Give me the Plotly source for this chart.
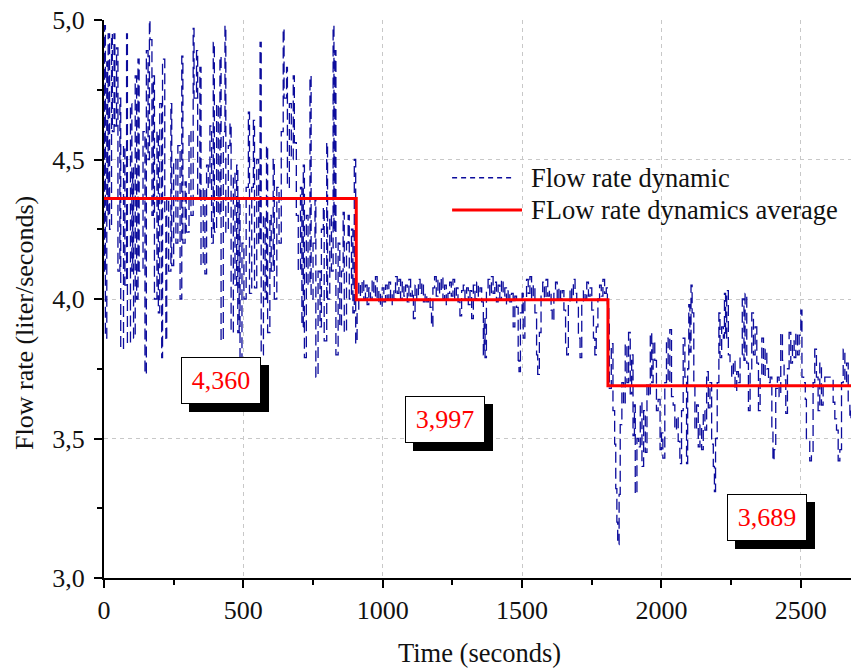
import plotly.graph_objects as go

# ---- data: (time in s, flow rate in l/s) ----
dyn_seg1 = [
    (0, 4.10), (2, 4.98), (5, 3.86), (10, 4.85), (13, 4.30), (15, 4.95), (20, 4.25), (27, 4.95),
    (30, 4.60), (36, 4.95), (39, 4.62), (45, 4.90), (50, 4.10), (57, 4.72), (60, 3.82), (70, 4.55),
    (75, 4.05), (81, 4.95), (84, 3.84), (95, 4.70), (100, 4.10), (103, 4.47), (106, 3.86), (112, 4.80),
    (117, 4.00), (122, 4.86), (126, 4.10), (140, 4.60), (147, 3.73), (152, 4.89), (158, 4.50), (163, 5.00),
    (165, 4.93), (172, 4.30), (177, 4.80), (181, 4.00), (190, 4.60), (195, 3.95), (200, 4.70), (207, 3.79),
    (210, 4.86), (218, 4.30), (222, 3.85), (225, 4.36), (232, 4.10), (240, 4.70), (243, 4.12), (250, 4.50),
    (258, 4.20), (265, 4.55), (273, 4.00), (279, 4.87), (283, 4.20), (291, 4.42), (295, 4.24), (305, 4.60),
    (312, 4.30), (320, 4.97), (323, 4.72), (332, 4.89), (336, 4.36), (344, 4.83), (348, 4.12), (356, 4.40),
    (362, 4.09), (368, 4.48), (374, 4.40), (380, 4.62), (386, 4.20), (392, 4.92), (396, 4.24), (404, 4.70),
    (410, 4.30), (416, 4.87), (420, 3.85), (428, 4.60), (434, 4.98), (437, 4.24), (446, 4.55), (452, 4.63),
    (456, 3.88), (464, 4.45), (470, 4.05), (476, 4.48), (480, 3.88), (485, 4.36), (488, 3.77), (495, 4.20),
    (502, 4.00), (510, 4.40), (518, 4.67), (522, 4.02), (530, 4.40), (536, 4.64), (540, 4.04), (548, 4.50),
    (555, 4.20), (560, 4.92), (564, 3.80), (572, 4.30), (578, 4.00), (583, 4.55), (587, 3.88), (595, 4.30),
    (600, 4.10), (607, 4.50), (611, 4.00), (620, 4.40), (628, 4.20), (636, 4.60), (643, 4.97), (646, 4.72),
    (655, 4.83), (658, 4.40), (665, 4.70), (672, 4.50), (679, 4.80), (683, 4.56), (690, 4.30), (697, 4.10),
    (705, 4.40), (710, 3.90), (715, 4.48), (719, 3.79), (726, 4.30), (732, 4.05), (739, 4.80), (743, 4.00),
    (750, 4.20), (757, 4.36), (760, 3.72), (768, 4.10), (775, 3.90), (780, 4.25), (787, 4.33), (790, 3.85),
    (799, 4.56), (802, 4.00), (810, 4.30), (816, 4.10), (822, 4.98), (825, 4.24), (828, 4.89), (832, 3.80),
    (840, 4.20), (846, 3.90), (852, 4.10), (858, 4.31), (862, 3.88), (870, 4.20), (876, 4.30), (880, 4.00),
    (888, 4.25), (893, 3.95), (898, 4.50), (903, 3.84),
]
dyn_seg2 = [
    (908, 3.95), (914, 4.06), (920, 4.01), (926, 4.07), (932, 4.00), (938, 4.05), (944, 3.98), (950, 4.04),
    (956, 4.00), (962, 4.07), (968, 4.01), (974, 4.08), (980, 3.99), (986, 4.03), (992, 3.97), (998, 4.04),
    (1004, 3.99), (1010, 4.05), (1016, 4.00), (1022, 4.06), (1028, 3.98), (1034, 4.03), (1040, 4.00), (1046, 4.08),
    (1052, 4.02), (1058, 4.07), (1064, 4.00), (1070, 4.06), (1076, 4.01), (1082, 4.05), (1088, 3.99), (1094, 4.07),
    (1100, 4.01), (1106, 4.03), (1110, 3.93), (1116, 4.05), (1122, 4.00), (1128, 4.07), (1134, 4.02), (1140, 4.06),
    (1146, 3.99), (1152, 4.02), (1158, 3.99), (1164, 4.01), (1170, 3.97), (1175, 3.90), (1180, 4.04), (1186, 4.08),
    (1192, 4.01), (1198, 4.07), (1204, 4.02), (1210, 4.08), (1216, 4.00), (1222, 4.05), (1228, 3.98), (1234, 4.02),
    (1240, 4.06), (1246, 4.01), (1252, 4.07), (1258, 4.00), (1264, 4.04), (1270, 3.99), (1277, 3.94), (1283, 4.03),
    (1289, 4.05), (1295, 4.00), (1301, 4.04), (1307, 3.98), (1313, 4.03), (1319, 3.93), (1325, 4.05), (1331, 4.00),
    (1337, 4.06), (1343, 4.01), (1349, 4.04), (1355, 3.99), (1361, 3.80), (1364, 3.93), (1367, 3.79), (1372, 4.03),
    (1378, 4.07), (1384, 4.01), (1390, 4.08), (1396, 4.02), (1402, 4.06), (1408, 3.99), (1414, 4.05), (1420, 4.00),
    (1426, 4.07), (1432, 4.01), (1438, 4.04), (1444, 3.98), (1450, 4.03), (1456, 3.99), (1462, 4.02), (1468, 3.90),
    (1474, 4.01), (1480, 3.97), (1486, 3.78), (1489, 3.74), (1494, 3.95), (1500, 4.02), (1504, 3.86), (1510, 4.00),
    (1516, 4.07), (1522, 4.02), (1528, 4.08), (1534, 4.00), (1540, 4.05), (1546, 3.95), (1552, 3.80), (1556, 3.73),
    (1562, 3.88), (1568, 4.02), (1574, 4.06), (1580, 4.00), (1586, 4.07), (1592, 4.01), (1598, 4.03), (1604, 3.96),
    (1608, 3.92), (1614, 4.02), (1620, 4.06), (1626, 3.99), (1632, 4.04), (1638, 4.00), (1644, 4.03), (1650, 3.96),
    (1656, 3.84), (1660, 3.80), (1666, 3.98), (1672, 4.04), (1678, 4.00), (1684, 4.07), (1690, 4.02), (1696, 3.98),
    (1702, 3.86), (1708, 3.79), (1714, 3.98), (1720, 4.03), (1726, 4.00), (1732, 4.06), (1738, 4.01), (1744, 4.04),
    (1750, 3.96), (1756, 3.86), (1761, 3.80), (1766, 3.90), (1772, 4.00), (1778, 4.05), (1784, 4.01), (1790, 4.07),
    (1796, 4.02), (1802, 4.04), (1806, 3.98),
]
dyn_seg3 = [
    (1811, 3.92), (1813, 3.68), (1820, 3.84), (1826, 3.60), (1832, 3.48), (1836, 3.32), (1840, 3.20), (1843, 3.12),
    (1848, 3.30), (1852, 3.55), (1858, 3.70), (1864, 3.62), (1870, 3.84), (1876, 3.70), (1882, 3.88), (1888, 3.66),
    (1893, 3.80), (1898, 3.51), (1903, 3.62), (1906, 3.30), (1912, 3.50), (1918, 3.47), (1924, 3.63), (1930, 3.40),
    (1936, 3.60), (1942, 3.45), (1948, 3.70), (1954, 3.65), (1960, 3.88), (1965, 3.70), (1970, 3.85), (1976, 3.78),
    (1982, 3.60), (1988, 3.64), (1995, 3.46), (2000, 3.52), (2005, 3.43), (2012, 3.70), (2018, 3.86), (2024, 3.70),
    (2030, 3.89), (2036, 3.65), (2042, 3.62), (2048, 3.53), (2054, 3.58), (2060, 3.49), (2066, 3.41), (2072, 3.60),
    (2078, 3.86), (2084, 3.72), (2090, 3.41), (2094, 3.75), (2098, 3.98), (2102, 3.81), (2106, 4.05), (2110, 3.95),
    (2116, 3.70), (2120, 3.53), (2126, 3.62), (2132, 3.47), (2138, 3.55), (2144, 3.46), (2150, 3.60), (2156, 3.53),
    (2162, 3.74), (2168, 3.61), (2174, 3.70), (2180, 3.48), (2186, 3.40), (2190, 3.31), (2194, 3.50), (2200, 3.70),
    (2206, 3.95), (2210, 3.79), (2216, 3.90), (2222, 3.86), (2226, 4.02), (2230, 3.86), (2234, 4.03), (2240, 3.80),
    (2246, 3.76), (2252, 3.72), (2258, 3.78), (2264, 3.67), (2270, 3.74), (2276, 3.70), (2282, 3.80), (2290, 4.00),
    (2296, 3.78), (2300, 4.02), (2306, 3.77), (2312, 3.60), (2318, 3.75), (2324, 3.95), (2330, 3.80), (2336, 3.90),
    (2342, 3.77), (2348, 3.60), (2354, 3.72), (2360, 3.86), (2366, 3.72), (2372, 3.82), (2378, 3.75), (2384, 3.70),
    (2390, 3.72), (2396, 3.53), (2400, 3.42), (2404, 3.46), (2410, 3.68), (2416, 3.72), (2422, 3.65), (2428, 3.88),
    (2434, 3.78), (2440, 3.71), (2446, 3.59), (2452, 3.75), (2458, 3.88), (2464, 3.77), (2470, 3.85), (2476, 3.79),
    (2482, 3.88), (2488, 3.80), (2494, 3.87), (2500, 3.96), (2504, 3.72), (2510, 3.70), (2516, 3.64), (2520, 3.50),
    (2526, 3.49), (2532, 3.42), (2538, 3.45), (2544, 3.70), (2550, 3.82), (2556, 3.72), (2562, 3.60), (2568, 3.77),
    (2574, 3.62), (2580, 3.70), (2586, 3.72), (2598, 3.72), (2610, 3.72), (2616, 3.63), (2622, 3.57), (2628, 3.53),
    (2634, 3.42), (2640, 3.46), (2646, 3.70), (2652, 3.82), (2658, 3.70), (2664, 3.77), (2670, 3.63), (2676, 3.57),
    (2680, 3.60),
]

# average of each period
avg_period_start = [0, 905, 1808]
avg_period_end = 2680
avg_values = [4.360, 3.997, 3.689]
# where each average label sits (time, flow)
avg_label_pos = [(420, 3.707), (1225, 3.567), (2378, 3.217)]

series_names = ["Flow rate dynamic", "FLow rate dynamics average"]
x_ticks = [0, 500, 1000, 1500, 2000, 2500]
y_ticks = [3.0, 3.5, 4.0, 4.5, 5.0]

FONT = "Liberation Serif, Times New Roman, serif"
BLUE = "#0c0c9c"
RED = "#ff0000"

dyn = dyn_seg1 + dyn_seg2 + dyn_seg3
t_dyn = [p[0] for p in dyn]
q_dyn = [p[1] for p in dyn]

avg_x = avg_period_start + [avg_period_end]
avg_y = avg_values + [avg_values[-1]]

fig = go.Figure()
fig.add_trace(go.Scatter(
    x=t_dyn, y=q_dyn, mode="lines", name=series_names[0],
    line=dict(color=BLUE, width=1.3, dash="11px,5px", shape="hv"), showlegend=False,
))
fig.add_trace(go.Scatter(
    x=avg_x, y=avg_y, mode="lines", name=series_names[1],
    line=dict(color=RED, width=3, shape="hv"), showlegend=False,
))

annotations = []
for (lx, ly), v in zip(avg_label_pos, avg_values):
    txt = f"{v:.3f}".replace(".", ",")
    annotations.append(dict(
        x=lx, y=ly, xref="x", yref="y", text=txt, showarrow=False,
        xshift=8, yshift=-8, width=78, height=45, borderpad=0,
        bgcolor="black", bordercolor="black", borderwidth=1,
        font=dict(family=FONT, size=26, color="black"),
    ))
    annotations.append(dict(
        x=lx, y=ly, xref="x", yref="y", text=txt, showarrow=False,
        width=78, height=45, borderpad=0,
        bgcolor="white", bordercolor="black", borderwidth=1,
        font=dict(family=FONT, size=26, color=RED),
    ))

# manual legend
leg_text_x = 0.569
annotations.append(dict(x=leg_text_x, y=0.7174, xref="paper", yref="paper", xanchor="left", yanchor="middle",
                        text=series_names[0], showarrow=False, font=dict(family=FONT, size=26.5, color="#111")))
annotations.append(dict(x=leg_text_x, y=0.6595, xref="paper", yref="paper", xanchor="left", yanchor="middle",
                        text=series_names[1], showarrow=False, font=dict(family=FONT, size=26.5, color="#111")))
# axis titles
annotations.append(dict(x=-0.1058, y=0.457, xref="paper", yref="paper", xanchor="center", yanchor="middle",
                        text="Flow rate (liter/seconds)", textangle=-90, showarrow=False,
                        font=dict(family=FONT, size=26, color="#111")))
annotations.append(dict(x=0.5033, y=-0.134, xref="paper", yref="paper", xanchor="center", yanchor="middle",
                        text="Time (seconds)", showarrow=False,
                        font=dict(family=FONT, size=26.5, color="#111")))

shapes = [
    dict(type="line", xref="paper", yref="paper", x0=0.466, x1=0.550, y0=0.7174, y1=0.7174,
         line=dict(color=BLUE, width=1.5, dash="5px,4px")),
    dict(type="line", xref="paper", yref="paper", x0=0.466, x1=0.5596, y0=0.6595, y1=0.6595,
         line=dict(color=RED, width=3)),
]

axis_common = dict(
    showline=True, linecolor="black", linewidth=2, automargin=False,
    ticks="outside", ticklen=8, tickwidth=2, tickcolor="black",
    showgrid=True, gridcolor="#c8c8c8", gridwidth=1, griddash="4px,4px",
    zeroline=False, ticklabeloverflow="allow",
    tickfont=dict(family=FONT, size=26, color="#111"),
)

fig.update_layout(
    width=851, height=670,
    margin=dict(l=104, r=0, t=20, b=92, autoexpand=False),
    paper_bgcolor="white", plot_bgcolor="white",
    separators=",.",
    showlegend=False,
    annotations=annotations, shapes=shapes,
    xaxis=dict(range=[0, 2680], tickvals=x_ticks, tickformat="d",
               minor=dict(dtick=250, tick0=0, ticks="outside", ticklen=5, tickwidth=2,
                          tickcolor="black", showgrid=False),
               **axis_common),
    yaxis=dict(range=[3.0, 5.0], tickvals=y_ticks, tickformat=".1f", ticklabelstandoff=4,
               minor=dict(dtick=0.25, tick0=3.0, ticks="outside", ticklen=5, tickwidth=2,
                          tickcolor="black", showgrid=False),
               **axis_common),
)

# remove the page's default body margin so the figure fills the window exactly
fig.write_html(
    "out.html",
    config={"displayModeBar": False},
    post_script=("document.documentElement.style.margin='0';document.documentElement.style.overflow='hidden';"
                 "document.body.style.margin='0';document.body.style.overflow='hidden';"),
)
